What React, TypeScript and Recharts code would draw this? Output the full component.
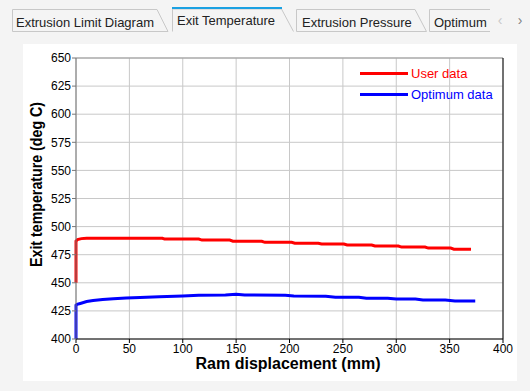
import React from "react"
import { LineChart, Line, XAxis, YAxis, CartesianGrid, Legend, ReferenceLine } from "recharts"

// ram displacement (mm) / exit temperature (deg C)
const userX = [0, 0, 1.5, 5, 10, 81, 83, 115, 118, 144, 147, 174, 177, 202, 205, 227, 230, 251, 254, 277, 280, 302, 305, 327, 330, 351, 354, 370]
const userT = [450, 487, 488.5, 489.3, 489.6, 489.6, 488.9, 488.9, 488, 488, 487, 487, 486, 486, 485.2, 485.2, 484.5, 484.5, 483.6, 483.6, 482.7, 482.7, 481.8, 481.8, 480.9, 480.9, 479.9, 479.9]

const optX = [0, 0, 1, 4, 10, 16, 25, 35, 47, 60, 78, 100, 115, 140, 150, 158, 196, 204, 234, 243, 265, 272, 292, 300, 318, 325, 346, 355, 374]
const optT = [400, 430, 430.8, 431.6, 433.3, 434.3, 435.2, 435.8, 436.5, 437, 437.6, 438.2, 438.9, 439.1, 439.8, 439.1, 439, 438.2, 438.1, 437.2, 437.2, 436.3, 436.3, 435.5, 435.5, 434.6, 434.6, 433.8, 433.8]

const xTicks = [0, 50, 100, 150, 200, 250, 300, 350, 400]
const yTicks = [400, 425, 450, 475, 500, 525, 550, 575, 600, 625, 650]

const tabs = ["Extrusion Limit Diagram", "Exit Temperature", "Extrusion Pressure", "Optimum"]

const userData = userX.map((x, i) => ({ x, t: userT[i] }))
const optData = optX.map((x, i) => ({ x, t: optT[i] }))

const FONT = "'Liberation Sans', Arial, sans-serif"

function TabStrip() {
  return (
    <svg width={530} height={44} style={{ position: "absolute", left: 0, top: 0 }} fontFamily={FONT}>
      <polygon points="12.5,9.5 157,9.5 168,31.5 12.5,31.5" fill="#f4f4f4" stroke="#c8c8c8" />
      <polygon points="296.5,9.5 415,9.5 426.5,31.5 296.5,31.5" fill="#f4f4f4" stroke="#c8c8c8" />
      <polyline points="490,9.5 429.5,9.5 429.5,31.5 490,31.5" fill="#f4f4f4" stroke="#c8c8c8" />
      <polyline points="172.5,31.5 172.5,9 281.5,9 293.5,31.5" fill="#f4f4f4" stroke="#c8c8c8" />
      <line x1={172} y1={8} x2={282} y2={8} stroke="#1ba1e2" strokeWidth={2} />
      <text x={16} y={26.5} fontSize={13} fill="#222">{tabs[0]}</text>
      <text x={177} y={25} fontSize={13} fill="#222">{tabs[1]}</text>
      <text x={302} y={26.5} fontSize={13} fill="#222">{tabs[2]}</text>
      <text x={434} y={26.5} fontSize={13} fill="#222">{tabs[3]}</text>
      <text x={500} y={25} fontSize={14} fill="#c8c8c8" textAnchor="middle">‹</text>
      <text x={520} y={25} fontSize={14} fill="#808080" textAnchor="middle">›</text>
    </svg>
  )
}

function LegendBox() {
  const rows = [
    { name: "User data", color: "#ff0000" },
    { name: "Optimum data", color: "#0000ff" },
  ]
  return (
    <div style={{ fontFamily: FONT, fontSize: 13 }}>
      {rows.map((r) => (
        <div key={r.name} style={{ display: "flex", alignItems: "center", height: 21 }}>
          <div style={{ width: 48, height: 3, background: r.color, marginRight: 3 }} />
          <span style={{ color: r.color }}>{r.name}</span>
        </div>
      ))}
    </div>
  )
}

function YTitle() {
  return (
    <text x={13} y={140.5} transform="rotate(-90, 13, 140.5)" textAnchor="middle" dominantBaseline="central"
      fontSize={16} fontWeight="bold" fill="#000" textLength={165} lengthAdjust="spacingAndGlyphs">
      Exit temperature (deg C)
    </text>
  )
}

function XTitle() {
  return (
    <text x={265} y={325} textAnchor="middle" fontSize={16} fontWeight="bold" fill="#000">
      Ram displacement (mm)
    </text>
  )
}

export default function App() {
  return (
    <div style={{ position: "absolute", left: 0, top: 0, width: 530, height: 391, background: "#f4f4f4" }}>
      <TabStrip />
      <div style={{ position: "absolute", left: 23, top: 44, width: 494, height: 337, background: "#fff" }}>
        <LineChart width={494} height={337} margin={{ top: 14, right: 14, left: 0, bottom: 0 }} style={{ fontFamily: FONT }}>
          <CartesianGrid stroke="#c8c8c8" />
          <XAxis
            dataKey="x"
            type="number"
            domain={[0, 400]}
            ticks={xTicks}
            allowDuplicatedCategory={false}
            height={42}
            tickSize={4}
            tickMargin={1}
            stroke="#000"
            tick={{ fill: "#000", fontSize: 12 }}
            label={<XTitle />}
          />
          <YAxis
            dataKey="t"
            type="number"
            domain={[400, 650]}
            ticks={yTicks}
            width={53}
            tickSize={4}
            tickMargin={1}
            stroke="#777"
            tick={{ fill: "#000", fontSize: 12 }}
            label={<YTitle />}
          />
          <ReferenceLine y={650} stroke="#999" />
          <ReferenceLine x={400} stroke="#000" />
          <Legend
            layout="horizontal"
            verticalAlign="middle"
            align="center"
            content={<LegendBox />}
            wrapperStyle={{ top: 19, left: 337, width: "auto", right: "auto" }}
          />
          <Line data={userData} dataKey="t" name="User data" stroke="#ff0000" strokeWidth={3} dot={false} type="linear" isAnimationActive={false} />
          <Line data={optData} dataKey="t" name="Optimum data" stroke="#0000ff" strokeWidth={3} dot={false} type="linear" isAnimationActive={false} />
        </LineChart>
      </div>
    </div>
  )
}
